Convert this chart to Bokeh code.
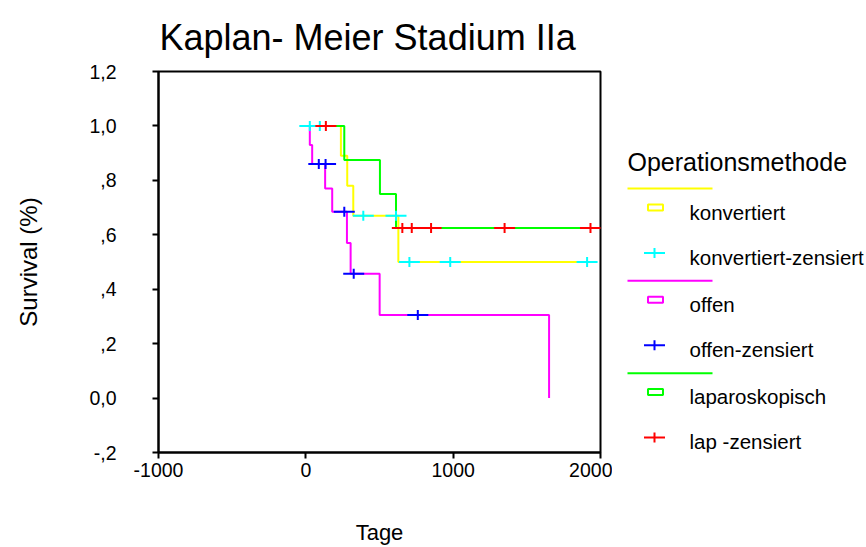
import math
from bokeh.plotting import figure
from bokeh.layouts import row
from bokeh.models import Range1d, FixedTicker, CustomJSTickFormatter
from bokeh.core.properties import value
from bokeh.embed import file_html
from bokeh.resources import INLINE

FONT = "Liberation Sans"

# ---------------- data ----------------
# konvertiert: Kaplan-Meier steps (Tage, Survival)
konv_t = [0, 238, 281, 322, 628, 1909]
konv_s = [1.0, 0.89, 0.78, 0.67, 0.50, 0.50]
konv_cens_t = [27, 95, 390, 612, 703, 980, 1909]
konv_cens_s = [1.0, 1.0, 0.67, 0.67, 0.50, 0.50, 0.50]

# offen
offen_t = [0, 27, 43, 131, 179, 279, 304, 501, 1651]
offen_s = [1.0, 0.93, 0.86, 0.77, 0.685, 0.57, 0.457, 0.305, 0.0]
offen_cens_t = [88, 134, 261, 325, 760]
offen_cens_s = [0.86, 0.86, 0.685, 0.457, 0.305]

# laparoskopisch
lap_t = [0, 261, 503, 612, 1932]
lap_s = [1.0, 0.875, 0.75, 0.625, 0.625]
lap_cens_t = [136, 655, 719, 850, 1349, 1932]
lap_cens_s = [1.0, 0.625, 0.625, 0.625, 0.625, 0.625]

x_ticks = [-1000, 0, 1000, 2000]
y_ticks = [-0.2, 0.0, 0.2, 0.4, 0.6, 0.8, 1.0, 1.2]

groups = [
    ("konvertiert", "konvertiert-zensiert", "#FFFF00", "#00FFFF",
     konv_t, konv_s, konv_cens_t, konv_cens_s),
    ("offen", "offen-zensiert", "#FF00FF", "#0000FF",
     offen_t, offen_s, offen_cens_t, offen_cens_s),
    ("laparoskopisch", "lap -zensiert", "#00FF00", "#FF0000",
     lap_t, lap_s, lap_cens_t, lap_cens_s),
]

TOP, BOTTOM = 71, 92

# ---------------- main plot ----------------
p = figure(width=612, height=547,
           x_range=Range1d(-1000, 2000), y_range=Range1d(-0.2, 1.2),
           output_backend="svg", toolbar_location=None,
           min_border_left=158, min_border_right=12,
           min_border_top=TOP, min_border_bottom=BOTTOM,
           title="Kaplan- Meier Stadium IIa")
p.title.text_font = FONT
p.title.text_font_size = "36px"
p.title.text_font_style = "normal"
p.title.text_color = "black"
p.title.align = "left"
p.title.offset = 1
p.title.standoff = 28
p.xgrid.visible = False
p.ygrid.visible = False
p.outline_line_color = "black"
p.outline_line_width = 2
p.background_fill_color = "white"
p.border_fill_color = "white"

for ax in (p.xaxis[0], p.yaxis[0]):
    ax.axis_line_color = "black"
    ax.axis_line_width = 2
    ax.major_tick_line_width = 2
    ax.major_tick_line_color = "black"
    ax.major_tick_in = 0
    ax.minor_tick_line_color = None
    ax.major_label_text_font = FONT
    ax.major_label_text_font_size = "19.5px"
    ax.major_label_text_color = "black"
    ax.axis_label_text_font = FONT
    ax.axis_label_text_font_style = "normal"
    ax.axis_label_text_color = "black"

p.xaxis.ticker = FixedTicker(ticks=x_ticks)
p.xaxis.formatter = CustomJSTickFormatter(code="return String(tick);")
p.xaxis.major_tick_out = 6
p.xaxis.major_label_standoff = 4
p.xaxis.axis_label = "Tage"
p.xaxis.axis_label_text_font_size = "22px"
p.xaxis.axis_label_standoff = 40

p.yaxis.ticker = FixedTicker(ticks=y_ticks)
p.yaxis.major_tick_out = 6
p.yaxis.major_label_standoff = 36
p.yaxis.axis_label = "Survival (%)"
p.yaxis.axis_label_text_font_size = "24px"
p.yaxis.axis_label_standoff = 44
p.yaxis.formatter = CustomJSTickFormatter(code="""
    let s = tick.toFixed(1).replace('.', ',');
    if (Math.abs(tick) < 1 && tick !== 0) { s = s.replace('0,', ','); }
    return s;
""")

for name, cname, lc, mc, t, s, ct, cs in groups:
    p.step(t, s, mode="after", line_color=lc, line_width=2)
for name, cname, lc, mc, t, s, ct, cs in groups:
    p.scatter(ct, cs, marker="dash", size=21, line_color=mc, line_width=2)
    p.scatter(ct, cs, marker="dash", size=10, angle=math.pi / 2, line_color=mc, line_width=2)

# ---------------- legend panel (pixel coordinates of the page) ----------------
LW, LH = 254, 547
lg = figure(width=LW, height=LH, x_range=Range1d(612, 866),
            y_range=Range1d(LH - BOTTOM, TOP),
            output_backend="svg", toolbar_location=None,
            x_axis_location=None, y_axis_location=None,
            min_border_left=0, min_border_right=0,
            min_border_top=TOP, min_border_bottom=BOTTOM)
lg.xgrid.visible = False
lg.ygrid.visible = False
lg.outline_line_color = None
lg.border_fill_color = "white"

leg_title = "Operationsmethode"
lg.text(x=[627], y=[162], text=[leg_title], text_baseline="middle",
        text_font=value(FONT), text_font_size="25px", text_color="black")
pitch = 93
for i, (name, cname, lc, mc, t, s, ct, cs) in enumerate(groups):
    base = 189 + pitch * i
    lg.segment(x0=[627], y0=[base], x1=[712], y1=[base], line_color=lc, line_width=2)
    lg.rect(x=[655], y=[base + 19], width=15, height=6, fill_color=None,
            line_color=lc, line_width=2)
    lg.text(x=[689], y=[base + 24], text=[name], text_baseline="middle",
            text_font=value(FONT), text_font_size="20.5px", text_color="black")
    lg.scatter(x=[654], y=[base + 65], marker="dash", size=21, line_color=mc, line_width=2)
    lg.scatter(x=[654], y=[base + 65], marker="dash", size=10, angle=math.pi / 2,
               line_color=mc, line_width=2)
    lg.text(x=[689], y=[base + 69], text=[cname], text_baseline="middle",
            text_font=value(FONT), text_font_size="20.5px", text_color="black")

layout = row(p, lg, spacing=0)
open("out.html", "w").write(file_html(layout, INLINE))
